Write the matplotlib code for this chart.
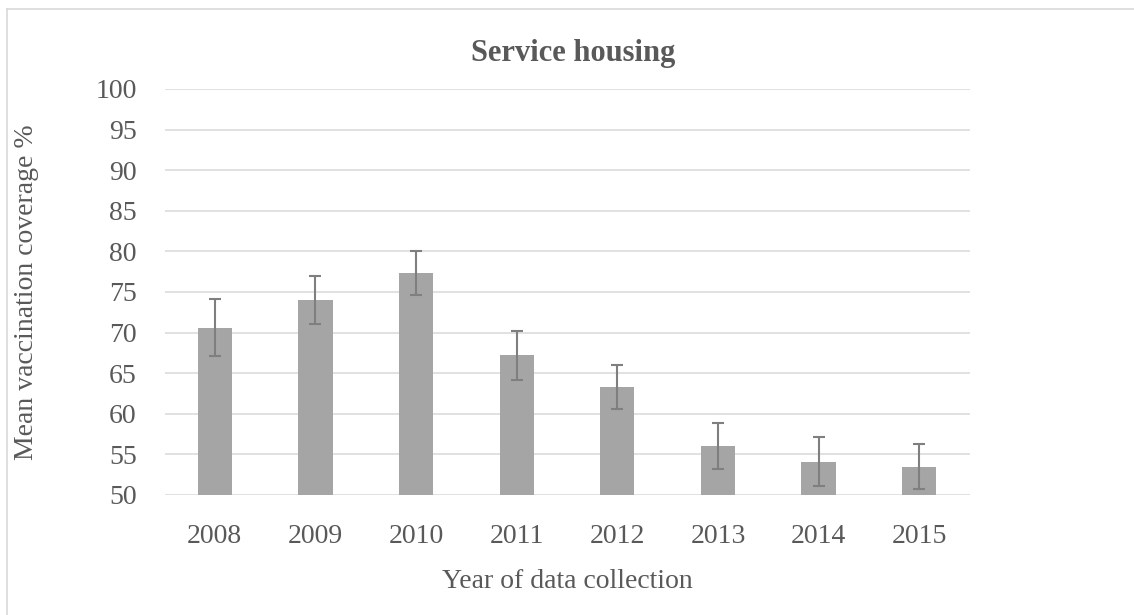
import numpy as np
import matplotlib
matplotlib.use('Agg')
import matplotlib.pyplot as plt
from matplotlib.lines import Line2D

plt.rcParams['font.family'] = ['Liberation Serif', 'DejaVu Serif']

# data
years = ['2008', '2009', '2010', '2011', '2012', '2013', '2014', '2015']
coverage = [70.6, 74.0, 77.3, 67.2, 63.3, 56.0, 54.1, 53.5]
err = [3.5, 2.95, 2.7, 3.0, 2.65, 2.85, 3.0, 2.8]
yticks = [50, 55, 60, 65, 70, 75, 80, 85, 90, 95, 100]

text_c = '#595959'
W, H = 1134, 615

fig = plt.figure(figsize=(W / 100, H / 100), dpi=100)
ax = fig.add_axes([164.5 / W, (H - 495) / H, 805 / W, 406 / H])

x = np.arange(len(years))
ax.bar(x, coverage, width=0.34, color='#a5a5a5', zorder=2)
ax.errorbar(x, coverage, yerr=err, fmt='none', ecolor='#7f7f7f',
            elinewidth=1.5, capsize=4.2, capthick=1.5, zorder=3)

ax.set_xlim(-0.5, len(years) - 0.5)
ax.set_ylim(50, 100)
ax.set_yticks(yticks)
ax.set_xticks(x)
ax.set_xticklabels(years)
ax.tick_params(length=0, labelsize=20, labelcolor=text_c)
ax.tick_params(axis='y', pad=20)
ax.tick_params(axis='x', pad=21)
ax.grid(axis='y', color='#d9d9d9', lw=1.1, zorder=0)
for s in ax.spines.values():
    s.set_visible(False)

ax.set_title('Service housing', fontsize=22, fontweight='bold', color=text_c,
             pad=20, x=0.508)
ax.set_xlabel('Year of data collection', fontsize=20, color=text_c, labelpad=14)
fig.text(27 / W, 1 - 292 / H, 'Mean vaccination coverage %', rotation=90,
         fontsize=20, color=text_c, ha='center', va='center')

# outer chart border
fig.add_artist(Line2D([7 / W, 7 / W], [0, 1 - 9 / H], color='#d9d9d9', lw=1.2))
fig.add_artist(Line2D([7 / W, 1], [1 - 9 / H, 1 - 9 / H], color='#d9d9d9', lw=1.2))

fig.savefig('out.png', dpi=100)
